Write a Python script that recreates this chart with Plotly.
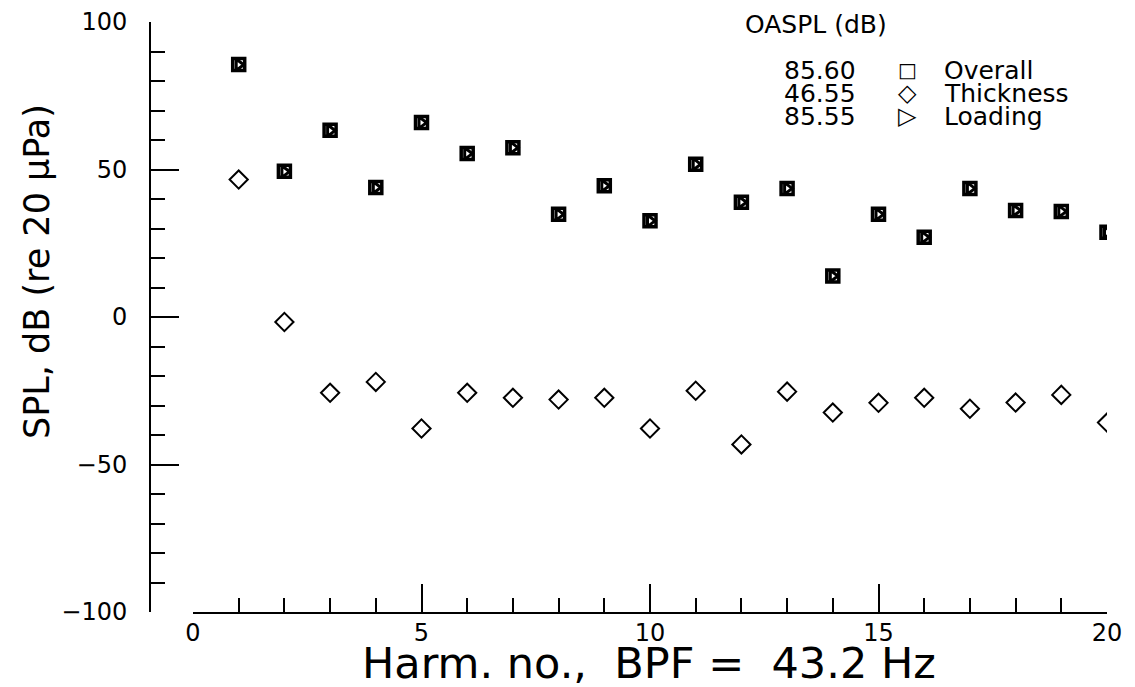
import plotly.graph_objects as go

# harmonic numbers and SPL levels
harmonics = list(range(1, 21))
overall = [85.6, 49.4, 63.3, 43.9, 65.9, 55.4, 57.4, 34.8, 44.5, 32.6,
           51.8, 38.9, 43.6, 13.9, 34.8, 27.0, 43.6, 36.1, 35.8, 28.7]
loading = [85.5, 49.3, 63.2, 43.9, 65.9, 55.4, 57.4, 34.8, 44.5, 32.6,
           51.8, 38.9, 43.6, 13.9, 34.8, 27.0, 43.6, 36.1, 35.8, 28.7]
thickness = [46.6, -1.7, -25.7, -22.0, -37.8, -25.7, -27.4, -28.0, -27.4, -37.8,
             -25.0, -43.2, -25.3, -32.4, -29.1, -27.4, -31.1, -29.0, -26.4, -35.8]

legend_names = ["Overall", "Thickness", "Loading"]
legend_values = ["85.60", "46.55", "85.55"]
legend_symbols = ["\u25a1", "\u25c7", "\u25b7"]

# page has an 8px body margin, so the figure is a bit smaller than the window
OFF = 8
W, H = 1127, 679
FONT = "DejaVu Sans"


def px(x):
    return (x - OFF) / W


def py(y):
    return 1 - (y - OFF) / H


fig = go.Figure()

fig.add_trace(go.Scatter(
    x=harmonics, y=thickness, mode="markers", name="Thickness",
    marker=dict(symbol="diamond-open", size=14, color="black", line=dict(width=2, color="black"))
))
fig.add_trace(go.Scatter(
    x=harmonics, y=overall, mode="markers", name="Overall",
    marker=dict(symbol="square-open", size=12, color="black", line=dict(width=3.5, color="black"))
))
fig.add_trace(go.Scatter(
    x=harmonics, y=loading, mode="markers", name="Loading",
    marker=dict(symbol="triangle-right-open", size=10, color="black", line=dict(width=3, color="black"))
))

# legend block drawn as text
ann = [dict(text="OASPL (dB)", x=px(816), y=py(24), xref="paper", yref="paper",
            showarrow=False, font=dict(family=FONT, size=25, color="black"),
            xanchor="center", yanchor="middle")]
sym_sizes = [20, 24, 24]
for i, (v, s, n) in enumerate(zip(legend_values, legend_symbols, legend_names)):
    yy = py(70 + 23 * i)
    ann.append(dict(text=v, x=px(858), y=yy, xref="paper", yref="paper", showarrow=False,
                    font=dict(family=FONT, size=25, color="black"), xanchor="right", yanchor="middle"))
    ann.append(dict(text=s, x=px(907), y=yy, xref="paper", yref="paper", showarrow=False,
                    font=dict(family=FONT, size=sym_sizes[i], color="black"), xanchor="center", yanchor="middle"))
    ann.append(dict(text=n, x=px(942), y=yy, xref="paper", yref="paper", showarrow=False,
                    font=dict(family=FONT, size=25, color="black"), xanchor="left", yanchor="middle"))

# axis titles
ann.append(dict(text="Harm.\u00a0no.,\u00a0\u00a0BPF\u00a0=\u00a0\u00a043.2\u00a0Hz",
                x=px(649), y=py(663), xref="paper", yref="paper", showarrow=False,
                font=dict(family=FONT, size=43, color="black"), xanchor="center", yanchor="middle"))
ann.append(dict(text="SPL,\u00a0dB\u00a0(re\u00a020\u00a0\u03bcPa)",
                x=px(37), y=py(272), xref="paper", yref="paper", showarrow=False, textangle=-90,
                font=dict(family=FONT, size=35, color="black"), xanchor="center", yanchor="middle"))

fig.update_layout(
    width=W, height=H,
    paper_bgcolor="white", plot_bgcolor="white",
    margin=dict(l=0, r=0, t=0, b=0, pad=0),
    showlegend=False,
    annotations=ann,
    xaxis=dict(
        domain=[px(193), px(1107)], range=[0, 20], anchor="y", automargin=False,
        showline=True, linecolor="black", linewidth=2, mirror=False,
        ticks="inside", ticklen=28, tickwidth=2, tickcolor="black",
        tickmode="array", tickvals=[0, 5, 10, 15, 20], ticktext=["0", "5", "10", "15", "20"],
        minor=dict(dtick=1, tick0=0, ticks="inside", ticklen=14, tickwidth=2, tickcolor="black"),
        tickfont=dict(family=FONT, size=24, color="black"),
        ticklabelstandoff=-2,
        showgrid=False, zeroline=False,
    ),
    yaxis=dict(
        domain=[py(612), py(22)], range=[-100, 100],
        anchor="free", position=px(150), automargin=False,
        showline=True, linecolor="black", linewidth=2,
        ticks="inside", ticklen=28, tickwidth=2, tickcolor="black",
        tickmode="array", tickvals=[-100, -50, 0, 50, 100],
        ticktext=["\u2212100", "\u221250", "0", "50", "100"],
        minor=dict(dtick=10, tick0=0, ticks="inside", ticklen=14, tickwidth=2, tickcolor="black"),
        tickfont=dict(family=FONT, size=24, color="black"),
        ticklabelstandoff=17,
        showgrid=False, zeroline=False,
    ),
)

fig.write_html("out.html")
